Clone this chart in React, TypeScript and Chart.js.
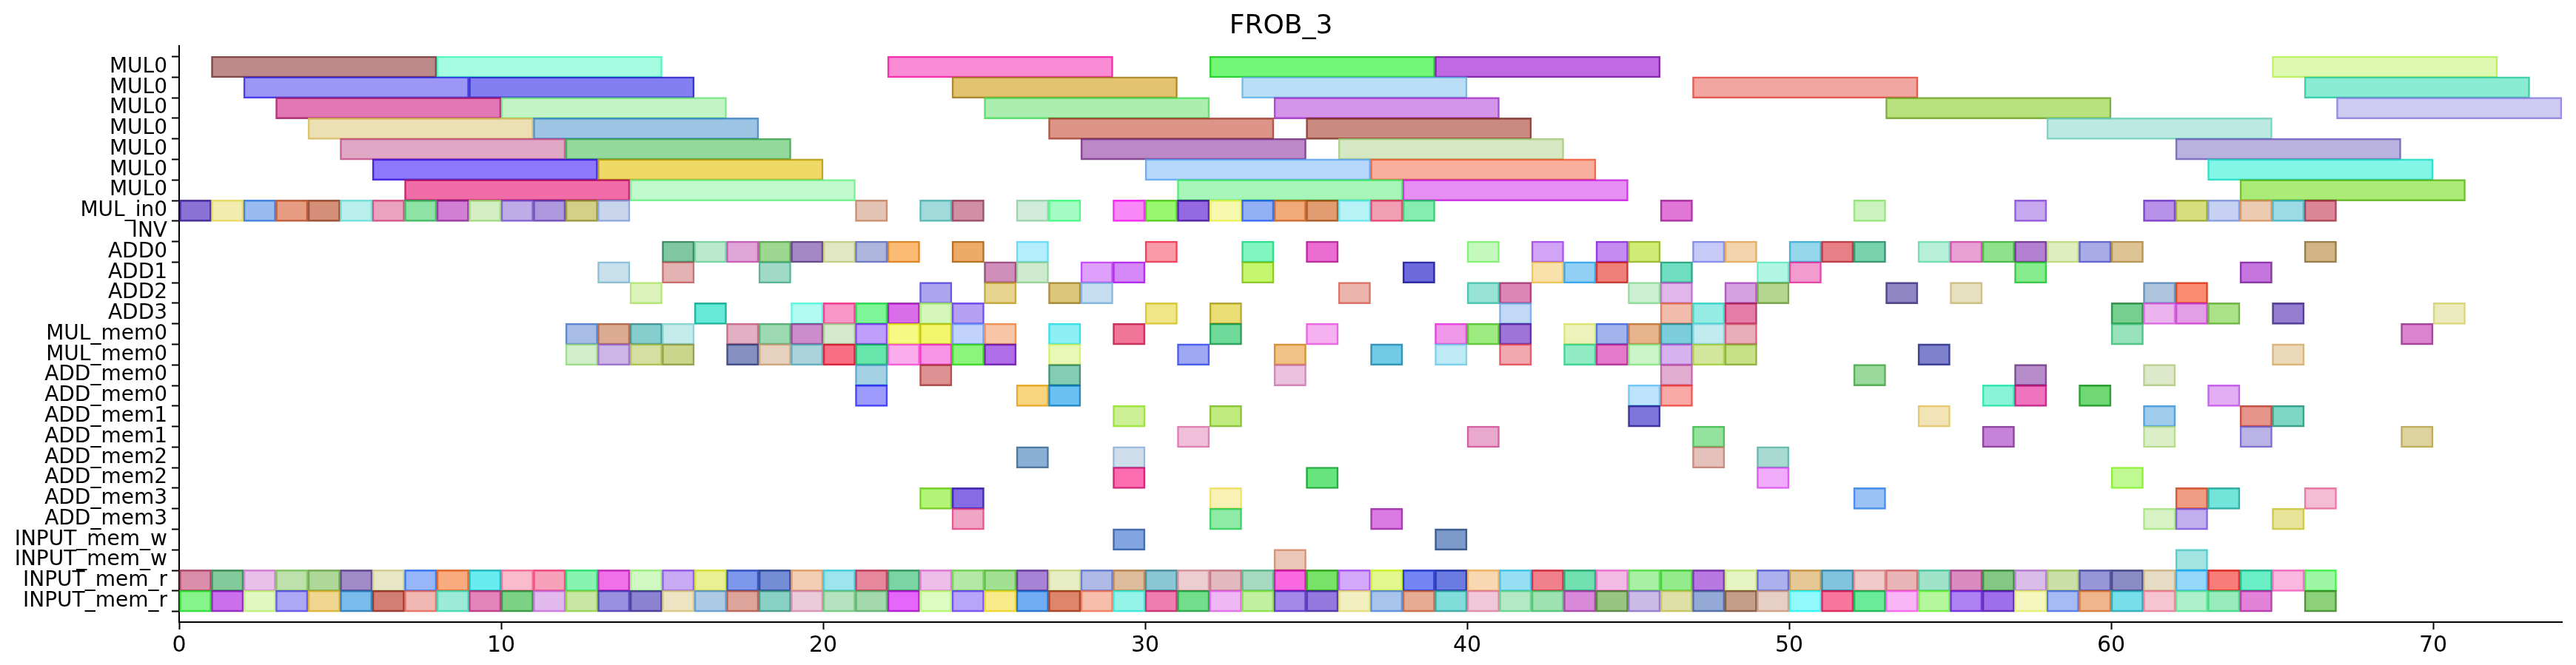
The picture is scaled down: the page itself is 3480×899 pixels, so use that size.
import React, { useEffect, useRef } from "react";
import { Chart, registerables } from "chart.js";
Chart.register(...registerables);

const rowLabels = [
  "MUL0", "MUL0", "MUL0", "MUL0", "MUL0", "MUL0", "MUL0",
  "MUL_in0", "INV", "ADD0", "ADD1", "ADD2", "ADD3",
  "MUL_mem0", "MUL_mem0", "ADD_mem0", "ADD_mem0", "ADD_mem1", "ADD_mem1",
  "ADD_mem2", "ADD_mem2", "ADD_mem3", "ADD_mem3",
  "INPUT_mem_w", "INPUT_mem_w", "INPUT_mem_r", "INPUT_mem_r",
];

// MUL0 rows: start times of 7-unit tasks
const mulDuration = 7;
const mul0Starts = [
  [1, 8, 22, 32, 39, 65],
  [2, 9, 24, 33, 47, 66],
  [3, 10, 25, 34, 53, 67],
  [4, 11, 27, 35, 58],
  [5, 12, 28, 36, 62],
  [6, 13, 30, 37, 63],
  [7, 14, 31, 38, 64],
];

const range = (a: number, b: number) => { const r: number[] = []; for (let i = a; i <= b; i++) r.push(i); return r; };

// unit-length tasks: start times per row (rows 7..26)
const unitStarts: number[][] = [
  [...range(0, 13), 21, 23, 24, 26, 27, ...range(29, 38), 46, 52, 57, 61, 62, 63, 64, 65, 66], // MUL_in0
  [], // INV
  [15, 16, 17, 18, 19, 20, 21, 22, 24, 26, 30, 33, 35, 40, 42, 44, 45, 47, 48, 50, 51, 52, 54, 55, 56, 57, 58, 59, 60, 66], // ADD0
  [13, 15, 18, 25, 26, 28, 29, 33, 38, 42, 43, 44, 46, 49, 50, 57, 64], // ADD1
  [14, 23, 25, 27, 28, 36, 40, 41, 45, 46, 48, 49, 53, 55, 61, 62], // ADD2
  [16, 19, 20, 21, 22, 23, 24, 30, 32, 41, 46, 47, 48, 60, 61, 62, 63, 65, 70], // ADD3
  [12, 13, 14, 15, 17, 18, 19, 20, 21, 22, 23, 24, 25, 27, 29, 32, 35, 39, 40, 41, 43, 44, 45, 46, 47, 48, 60, 69], // MUL_mem0
  [12, 13, 14, 15, 17, 18, 19, 20, 21, 22, 23, 24, 25, 27, 31, 34, 37, 39, 41, 43, 44, 45, 46, 47, 48, 54, 65], // MUL_mem0
  [21, 23, 27, 34, 46, 52, 57, 61], // ADD_mem0
  [21, 26, 27, 45, 46, 56, 57, 59, 63], // ADD_mem0
  [29, 32, 45, 54, 61, 64, 65], // ADD_mem1
  [31, 40, 47, 56, 61, 64, 69], // ADD_mem1
  [26, 29, 47, 49], // ADD_mem2
  [29, 35, 49, 60], // ADD_mem2
  [23, 24, 32, 52, 62, 63, 66], // ADD_mem3
  [24, 32, 37, 61, 62, 65], // ADD_mem3
  [29, 39], // INPUT_mem_w
  [34, 62], // INPUT_mem_w
  range(0, 66), // INPUT_mem_r
  [...range(0, 64), 66], // INPUT_mem_r
];

const xTicks = [0, 10, 20, 30, 40, 50, 60, 70];
const xMax = 74;

function colorFor(i: number, alpha: number, dark: number) {
  const hue = (i * 137.508 + (i % 7) * 23) % 360;
  const sat = 40 + ((i * 53) % 55);
  const light = 42 + ((i * 29) % 38) - dark;
  return `hsla(${hue.toFixed(1)}, ${sat}%, ${light}%, ${alpha})`;
}

export default function App() {
  const ref = useRef<HTMLCanvasElement>(null);
  useEffect(() => {
    document.body.style.margin = "0";
    const data: { x: [number, number]; y: number }[] = [];
    mul0Starts.forEach((row, r) => row.forEach((s) => data.push({ x: [s, s + mulDuration], y: r })));
    unitStarts.forEach((row, k) => row.forEach((s) => data.push({ x: [s, s + 1], y: k + 7 })));
    const bg = data.map((_, i) => colorFor(i, 0.62, 0));
    const bd = data.map((_, i) => colorFor(i, 0.85, 12));
    const chart = new Chart(ref.current!, {
      type: "bar",
      data: {
        datasets: [{
          data: data as any,
          backgroundColor: bg,
          borderColor: bd,
          borderWidth: 2,
          borderSkipped: false,
          barThickness: 29,
          grouped: false,
        }],
      },
      options: {
        indexAxis: "y",
        animation: false,
        responsive: false,
        devicePixelRatio: 1,
        layout: { padding: { right: 19, left: 0, top: 0, bottom: 0 } },
        plugins: {
          legend: { display: false },
          tooltip: { enabled: false },
          title: {
            display: true,
            text: "FROB_3",
            color: "#000",
            font: { family: "DejaVu Sans", size: 36, weight: "normal" },
            padding: { top: 14, bottom: 5 },
          },
        },
        scales: {
          x: {
            type: "linear",
            min: 0,
            max: xMax,
            afterBuildTicks: (s: any) => { s.ticks = xTicks.map((v) => ({ value: v })); },
            afterFit: (s: any) => { s.height = 58; },
            ticks: { color: "#000", font: { family: "DejaVu Sans", size: 30 }, padding: 4, maxRotation: 0 },
            grid: { drawOnChartArea: false, tickLength: 10, tickColor: "#000", tickWidth: 2 },
            border: { color: "#000", width: 2 },
          },
          y: {
            type: "linear",
            min: -0.5,
            max: rowLabels.length - 0.5,
            reverse: true,
            afterBuildTicks: (s: any) => { s.ticks = rowLabels.map((_, i) => ({ value: i })); },
            afterFit: (s: any) => { s.width = 242; },
            ticks: {
              color: "#000",
              font: { family: "DejaVu Sans", size: 28 },
              padding: 6,
              autoSkip: false,
              callback: (v: any) => rowLabels[v] ?? "",
            },
            grid: { drawOnChartArea: false, tickLength: 10, tickColor: "#000", tickWidth: 2 },
            border: { color: "#000", width: 2 },
          },
        },
      },
    });
    return () => chart.destroy();
  }, []);
  return <canvas ref={ref} width={3480} height={899} style={{ display: "block", width: "3480px", height: "899px" }} />;
}
